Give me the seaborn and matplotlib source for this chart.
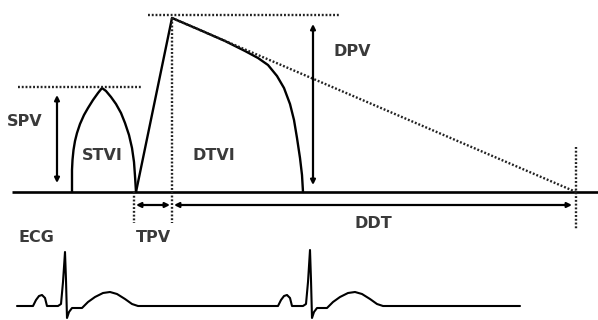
import matplotlib
matplotlib.use("Agg")
import matplotlib.pyplot as plt
import seaborn as sns
import pandas as pd

sns.set_theme(style="white")
plt.rcParams['font.family'] = ['DejaVu Sans']

# ---- Pulmonary vein Doppler schematic (pixel-space coordinates) ----
baseline_x = [12, 598]
baseline_y = [192, 192]

# S wave (systolic)
s_wave_x = [72, 72, 72.5, 73.5, 75, 77, 80, 84, 88, 93, 98, 102, 106, 111, 116, 121, 125, 129, 132, 134, 135, 136]
s_wave_y = [192, 170, 160, 150, 141, 133, 124, 115, 108, 100, 93, 88, 91, 97, 104, 113, 123, 135, 148, 162, 176, 192]

# rise to D peak and D wave (diastolic)
d_wave_x = [136, 172, 200, 225, 245, 258, 268, 277, 284, 290, 294, 297, 300, 302, 303]
d_wave_y = [192, 18, 30, 41, 51, 58, 65, 76, 88, 104, 120, 138, 158, 175, 192]

# deceleration slope (dotted)
decel_x = [172, 576]
decel_y = [18, 192]

# ECG trace
ecg_x = [17, 33, 36, 39, 42, 45, 47, 58, 61, 63, 65, 66, 67, 69, 72, 82, 88, 95, 103, 110, 117, 125, 132, 138,
         278, 281, 284, 287, 290, 292, 303, 306, 308, 310, 311, 312, 314, 317, 327, 333, 340, 348, 355, 362, 370, 377, 383, 520]
ecg_y = [306, 306, 300, 296, 295, 298, 306, 306, 304, 282, 252, 280, 318, 312, 308, 308, 302, 297, 293, 292, 294, 299, 304, 306,
         306, 300, 296, 295, 298, 306, 306, 304, 282, 250, 280, 318, 312, 308, 308, 302, 297, 293, 292, 294, 299, 304, 306, 306]

# reference (dotted) lines: (x0, x1, y0, y1)
ref_lines = [
    (18, 142, 87, 87),      # SPV level
    (148, 340, 15, 15),     # DPV level
    (134, 134, 192, 223),   # TPV start
    (172, 172, 18, 223),    # D peak time
    (576, 576, 147, 230),   # DDT end
]

# measurement arrows: (x0, y0, x1, y1)
arrows = [
    (57, 95, 57, 183),      # SPV
    (313, 24, 313, 185),    # DPV
    (136, 205, 170, 205),   # TPV
    (174, 205, 572, 205),   # DDT
]

labels = ["SPV", "STVI", "DTVI", "DPV", "DDT", "TPV", "ECG"]
label_x = [25, 102, 214, 352, 373, 153, 36]
label_y = [122, 156, 155, 51, 224, 238, 238]

fig = plt.figure(figsize=(5.98, 3.2), dpi=100)
ax = fig.add_axes([0, 0, 1, 1])

ax.plot(baseline_x, baseline_y, color="black", lw=1.9, solid_capstyle="butt")
sns.lineplot(x=s_wave_x, y=s_wave_y, sort=False, estimator=None, color="black", lw=1.7, ax=ax)
sns.lineplot(x=d_wave_x, y=d_wave_y, sort=False, estimator=None, color="black", lw=1.7, ax=ax)
sns.lineplot(x=decel_x, y=decel_y, sort=False, estimator=None, color="#222222", lw=1.7,
             linestyle=(0, (0.8, 0.8)), ax=ax)
sns.lineplot(x=ecg_x, y=ecg_y, sort=False, estimator=None, color="black", lw=1.5, ax=ax)

for x0, x1, y0, y1 in ref_lines:
    ax.plot([x0, x1], [y0, y1], color="#222222", lw=1.7, linestyle=(0, (0.8, 0.8)))

for x0, y0, x1, y1 in arrows:
    ax.annotate("", xy=(x1, y1), xytext=(x0, y0),
                arrowprops=dict(arrowstyle="<|-|>", color="black", lw=1.6,
                                mutation_scale=7, shrinkA=0, shrinkB=0))

for t, x, y in zip(labels, label_x, label_y):
    ax.text(x, y, t, ha="center", va="center", fontsize=11.5, fontweight="bold", color="#3a3a3a")

ax.set_xlim(0, 598)
ax.set_ylim(320, 0)
ax.axis("off")
fig.savefig("out.png", dpi=100)
